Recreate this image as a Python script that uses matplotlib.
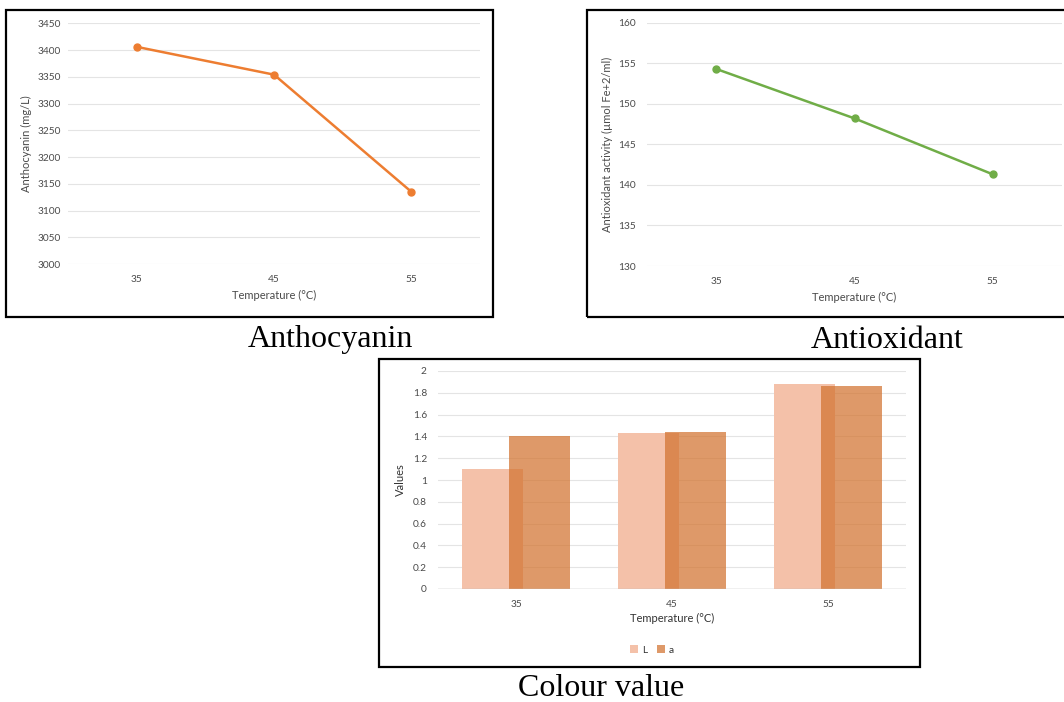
import matplotlib
matplotlib.use("Agg")
import matplotlib.pyplot as plt
from matplotlib.patches import Rectangle
import numpy as np

# ---- data ----
temps = ["35", "45", "55"]
anthocyanin = [3406, 3354, 3135]
antioxidant = [154.3, 148.2, 141.3]
L_values = [1.10, 1.43, 1.88]
a_values = [1.40, 1.44, 1.86]

anth_ticks = [3000, 3050, 3100, 3150, 3200, 3250, 3300, 3350, 3400, 3450]
anti_ticks = [130, 135, 140, 145, 150, 155, 160]
col_ticks = [0, 0.2, 0.4, 0.6, 0.8, 1, 1.2, 1.4, 1.6, 1.8, 2]
col_tick_labels = ["0", "0.2", "0.4", "0.6", "0.8", "1", "1.2", "1.4", "1.6", "1.8", "2"]

W, H = 1064, 702
fig = plt.figure(figsize=(W / 100, H / 100), dpi=100)

FONT = "Lato"
TXT = "#4A4A4A"
GRID = "#E4E4E4"
TICK_FS = 7.3
LAB_FS = 8


def px_axes(left, top, right, bottom):
    return fig.add_axes([left / W, 1 - bottom / H, (right - left) / W, (bottom - top) / H])


def frame(left, top, right, bottom):
    fig.add_artist(Rectangle((left / W, 1 - bottom / H), (right - left) / W, (bottom - top) / H,
                             transform=fig.transFigure, fill=False, edgecolor="black",
                             linewidth=1.6, clip_on=False))


def style(ax, ticks, labels=None, ypad=5):
    for s in ax.spines.values():
        s.set_visible(False)
    ax.set_yticks(ticks)
    if labels is not None:
        ax.set_yticklabels(labels)
    ax.set_ylim(ticks[0], ticks[-1])
    ax.grid(axis="y", color=GRID, linewidth=0.8)
    ax.set_axisbelow(True)
    ax.tick_params(length=0, labelsize=TICK_FS, labelcolor=TXT, pad=ypad)
    ax.tick_params(axis="x", pad=8)
    ax.set_xlim(-0.5, 2.5)
    ax.set_xticks(range(len(temps)))
    ax.set_xticklabels(temps)
    for lab in ax.get_xticklabels() + ax.get_yticklabels():
        lab.set_fontfamily(FONT)
    ax.patch.set_alpha(0)


# ---- panel 1: anthocyanin ----
frame(6, 10, 493, 317)
ax1 = px_axes(68, 23.3, 480, 264)
ax1.plot(range(3), anthocyanin, color="#ED7D31", linewidth=1.8, marker="o", markersize=5)
style(ax1, anth_ticks, ypad=5)
ax1.set_xlabel("Temperature (°C)", fontsize=LAB_FS, color=TXT, fontfamily=FONT, labelpad=4)
ax1.set_ylabel("Anthocyanin (mg/L)", fontsize=LAB_FS, color=TXT, fontfamily=FONT, labelpad=4)
fig.text(330 / W, 1 - 340 / H, "Anthocyanin", fontsize=23, fontfamily="Liberation Serif",
         ha="center", va="center")

# ---- panel 2: antioxidant ----
frame(587, 10, 1080, 317)
ax2 = px_axes(647, 22.7, 1062, 266)
ax2.plot(range(3), antioxidant, color="#70AD47", linewidth=1.8, marker="o", markersize=5)
style(ax2, anti_ticks, ypad=8)
ax2.set_xlabel("Temperature (°C)", fontsize=LAB_FS, color=TXT, fontfamily=FONT, labelpad=4)
ax2.set_ylabel("Antioxidant activity (µmol Fe+2/ml)", fontsize=LAB_FS, color=TXT, fontfamily=FONT,
               labelpad=4)
fig.text(887 / W, 1 - 340 / H, "Antioxidant", fontsize=23, fontfamily="Liberation Serif",
         ha="center", va="center")

# ---- panel 3: colour value ----
frame(379, 359, 920, 667)
ax3 = px_axes(438, 371, 906, 589)
x = np.arange(3)
bw = 0.39
ax3.bar(x - 0.15, L_values, width=bw, color="#F4C1A9", label="L")
ax3.bar(x + 0.15, a_values, width=bw, color="#D37431", alpha=0.73, label="a")
style(ax3, col_ticks, col_tick_labels, ypad=8)
ax3.axhline(0, color="#BFBFBF", linewidth=1.0, zorder=3)
ax3.set_xlabel("Temperature (°C)", fontsize=LAB_FS, color="#333333", fontfamily=FONT, labelpad=3)
ax3.set_ylabel("Values", fontsize=LAB_FS, color="#333333", fontfamily=FONT, labelpad=5)
leg = ax3.legend(loc="center", bbox_to_anchor=(652 / W, 1 - 650 / H), bbox_transform=fig.transFigure,
                 ncol=2, frameon=False, handlelength=0.8, handleheight=0.8,
                 handletextpad=0.4, columnspacing=0.9, prop={"family": FONT, "size": TICK_FS})
for t in leg.get_texts():
    t.set_color("#333333")
fig.text(601 / W, 1 - 688 / H, "Colour value", fontsize=23, fontfamily="Liberation Serif",
         ha="center", va="center")

fig.savefig("out.png", dpi=100, facecolor="white")
